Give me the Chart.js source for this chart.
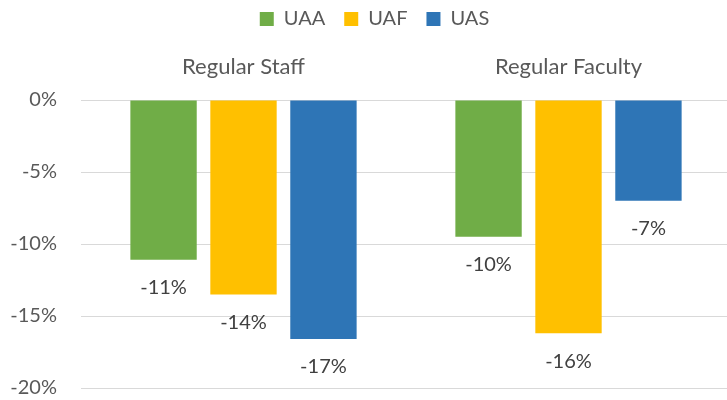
<!DOCTYPE html>
<html>
<head>
<meta charset="utf-8">
<script src="https://cdn.jsdelivr.net/npm/chart.js@4/dist/chart.umd.min.js"></script>
<style>
  html, body { margin: 0; padding: 0; background: #fff; overflow: hidden; }
  #wrap { width: 727px; height: 400px; overflow: hidden; }
</style>
</head>
<body>
<div id="wrap"><canvas id="chart" width="731" height="400"></canvas></div>
<script>
// change by group, in percent
const categories = ['Regular Staff', 'Regular Faculty'];
const uaaValues = [-11.1, -9.5];
const uafValues = [-13.5, -16.2];
const uasValues = [-16.6, -7.0];
const yTicks = [0, -5, -10, -15, -20];

const FONT = "'Lato', sans-serif";
Chart.defaults.font.family = FONT;
Chart.defaults.color = '#595959';

// round half away from zero, as the spreadsheet does
const fmtPct = (v) => (v < 0 ? '-' : '') + Math.round(Math.abs(v)) + '%';

// value labels under the end of each bar
const barLabels = {
  id: 'barLabels',
  afterDatasetsDraw(chart) {
    const ctx = chart.ctx;
    ctx.save();
    ctx.font = `20px ${FONT}`;
    ctx.fillStyle = '#404040';
    ctx.textAlign = 'center';
    ctx.textBaseline = 'middle';
    chart.data.datasets.forEach((ds, i) => {
      chart.getDatasetMeta(i).data.forEach((bar, j) => {
        ctx.fillText(fmtPct(ds.data[j]), bar.x, bar.y + 28);
      });
    });
    ctx.restore();
  }
};

// nudge the legend a bit to the right, like the original
const legendShift = {
  id: 'legendShift',
  afterLayout(chart) {
    chart.legend.left += 9;
    chart.legend.right += 9;
  }
};

new Chart(document.getElementById('chart'), {
  type: 'bar',
  data: {
    labels: categories,
    datasets: [
      { label: 'UAA', data: uaaValues, backgroundColor: '#70ad47' },
      { label: 'UAF', data: uafValues, backgroundColor: '#ffc000' },
      { label: 'UAS', data: uasValues, backgroundColor: '#2e75b6' }
    ]
  },
  options: {
    responsive: false,
    animation: false,
    devicePixelRatio: 1,
    categoryPercentage: 0.738,
    barPercentage: 0.83,
    layout: { padding: { top: -10, bottom: 12, left: 0, right: 0 } },
    scales: {
      x: {
        position: 'top',
        grid: { display: false, drawTicks: false },
        border: { display: false },
        ticks: { font: { size: 22 }, padding: 20, color: '#595959' },
        afterFit: (s) => { s.height = 61; }
      },
      y: {
        min: -20,
        max: 0,
        afterBuildTicks: (s) => { s.ticks = yTicks.map(v => ({ value: v })); },
        grid: { color: '#d9d9d9', lineWidth: 1, drawTicks: false },
        border: { display: false },
        ticks: { font: { size: 20 }, padding: 24, color: '#595959', callback: (v) => v + '%' },
        afterFit: (s) => { s.width = 81; s.paddingTop = 0; s.paddingBottom = 0; }
      }
    },
    plugins: {
      legend: {
        position: 'top',
        labels: { boxWidth: 14, boxHeight: 14, padding: 19, font: { size: 20 }, color: '#595959' }
      },
      tooltip: { enabled: false }
    }
  },
  plugins: [barLabels, legendShift]
});
</script>
</body>
</html>
